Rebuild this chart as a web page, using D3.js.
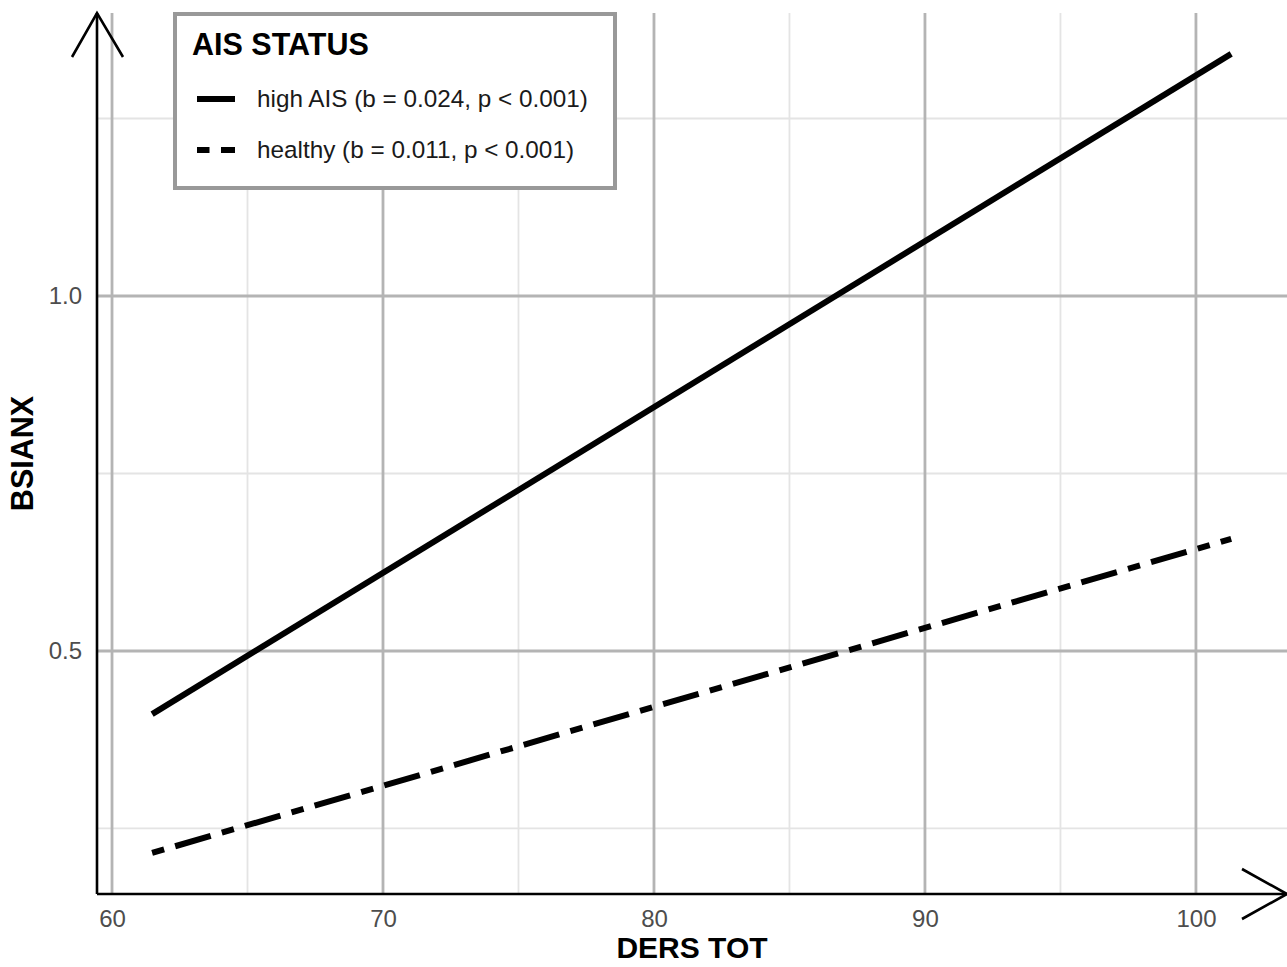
<!DOCTYPE html>
<html>
<head>
<meta charset="utf-8">
<script src="https://cdn.jsdelivr.net/npm/d3@7"></script>
<style>
  html, body { margin: 0; padding: 0; background: #fff; overflow: hidden; }
  svg { display: block; font-family: "Liberation Sans", Arial, sans-serif; }
</style>
</head>
<body>
<svg id="chart" width="1287" height="967"></svg>
<script>
// data
var groups = ['high AIS', 'healthy']
var legendLabels = ['high AIS (b = 0.024, p < 0.001)', 'healthy (b = 0.011, p < 0.001)']
var dersTot = [61.48, 101.3]
var highAis = [0.411, 1.341]
var healthy = [0.2155, 0.658]
var xMajor = [60, 70, 80, 90, 100]
var xMinor = [65, 75, 85, 95]
var yMajor = [0.5, 1.0]
var yMinor = [0.25, 0.75, 1.25]

var svg = d3.select('#chart')
var pLeft = 97, pRight = 1287, pTop = 13, pBottom = 894

var x = d3.scaleLinear().domain([59.446, 103.36]).range([pLeft, pRight])
var y = d3.scaleLinear().domain([0.1577, 1.3986]).range([pBottom, pTop])

// grid
var grid = svg.append('g')
grid.selectAll('.xmin').data(xMinor).enter().append('line')
    .attr('x1', d => x(d)).attr('x2', d => x(d))
    .attr('y1', pTop).attr('y2', pBottom)
    .attr('stroke', '#e4e4e4').attr('stroke-width', 1.8)
grid.selectAll('.ymin').data(yMinor).enter().append('line')
    .attr('x1', pLeft).attr('x2', pRight)
    .attr('y1', d => y(d)).attr('y2', d => y(d))
    .attr('stroke', '#e4e4e4').attr('stroke-width', 1.8)
grid.selectAll('.xmaj').data(xMajor).enter().append('line')
    .attr('x1', d => x(d)).attr('x2', d => x(d))
    .attr('y1', pTop).attr('y2', pBottom)
    .attr('stroke', '#b4b4b4').attr('stroke-width', 2.8)
grid.selectAll('.ymaj').data(yMajor).enter().append('line')
    .attr('x1', pLeft).attr('x2', pRight)
    .attr('y1', d => y(d)).attr('y2', d => y(d))
    .attr('stroke', '#b4b4b4').attr('stroke-width', 2.8)

// axes, no tick marks
var xAxis = d3.axisBottom(x).tickValues(xMajor).tickSize(0).tickPadding(16).tickFormat(d3.format('d'))
var yAxis = d3.axisLeft(y).tickValues(yMajor).tickSize(0).tickPadding(15).tickFormat(d3.format('.1f'))
var gx = svg.append('g').attr('transform', 'translate(0,' + pBottom + ')').call(xAxis)
var gy = svg.append('g').attr('transform', 'translate(' + pLeft + ',0)').call(yAxis)
;[gx, gy].forEach(function(g){
    g.select('.domain').remove()
    g.selectAll('text').attr('font-size', '24px').attr('fill', '#4d4d4d')
        .attr('font-family', '"Liberation Sans", Arial, sans-serif')
})

// regression lines (dot-dash for healthy)
var line = d3.line().x(d => x(d[0])).y(d => y(d[1]))
var series = [
    {name: groups[0], values: d3.zip(dersTot, highAis), dash: null},
    {name: groups[1], values: d3.zip(dersTot, healthy), dash: '12.5 11.5 37 11.6'}
]
svg.selectAll('.fit').data(series).enter().append('path')
    .attr('d', d => line(d.values))
    .attr('fill', 'none').attr('stroke', '#000').attr('stroke-width', 6)
    .attr('stroke-dasharray', d => d.dash)

// axis lines with open arrows
var ax = svg.append('g').attr('stroke', '#000').attr('stroke-width', 2.6).attr('fill', 'none')
ax.append('line').attr('x1', pLeft).attr('x2', pLeft).attr('y1', pBottom).attr('y2', pTop)
ax.append('line').attr('x1', pLeft).attr('x2', pRight).attr('y1', pBottom).attr('y2', pBottom)
ax.append('path').attr('d', 'M' + (pLeft - 25) + ',' + (pTop + 44) + 'L' + pLeft + ',' + pTop + 'L' + (pLeft + 26) + ',' + (pTop + 44))
ax.append('path').attr('d', 'M' + (pRight - 45) + ',' + (pBottom - 25) + 'L' + pRight + ',' + pBottom + 'L' + (pRight - 45) + ',' + (pBottom + 25))

// axis titles
svg.append('text').text('DERS TOT')
    .attr('x', (pLeft + pRight) / 2).attr('y', 958)
    .attr('text-anchor', 'middle').attr('font-size', '30px').attr('font-weight', 'bold')
svg.append('text').text('BSIANX')
    .attr('transform', 'translate(33,' + ((pTop + pBottom) / 2) + ') rotate(-90)')
    .attr('text-anchor', 'middle').attr('font-size', '30.5px').attr('font-weight', 'bold')

// legend
var lg = svg.append('g')
lg.append('rect').attr('x', 175).attr('y', 14).attr('width', 440).attr('height', 174)
    .attr('fill', '#fff').attr('stroke', '#999').attr('stroke-width', 4)
lg.append('text').text('AIS STATUS').attr('x', 192).attr('y', 55)
    .attr('font-size', '30.5px').attr('font-weight', 'bold')
var items = lg.selectAll('.item').data(series).enter().append('g')
    .attr('transform', (d, i) => 'translate(0,' + (99 + i * 51) + ')')
items.append('line').attr('x1', 197).attr('x2', 235).attr('y1', 0).attr('y2', 0)
    .attr('stroke', '#000').attr('stroke-width', 6)
    .attr('stroke-dasharray', d => d.dash)
items.append('text').text((d, i) => legendLabels[i])
    .attr('x', 257).attr('y', 8).attr('font-size', '24.3px').attr('fill', '#1a1a1a')
</script>
</body>
</html>
